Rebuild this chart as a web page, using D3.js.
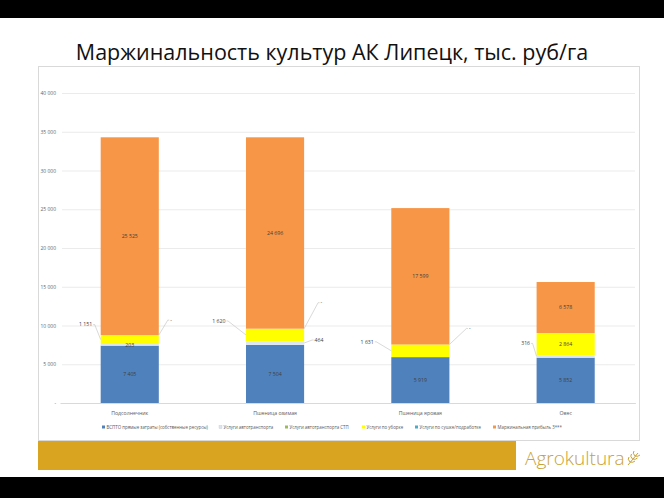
<!DOCTYPE html>
<html><head><meta charset="utf-8">
<script src="https://cdn.jsdelivr.net/npm/d3@7"></script>
<style>
html,body{margin:0;padding:0;background:#fff;}
svg{display:block;}
</style></head>
<body>
<svg id="c" width="664" height="498"></svg>
<script>
// ---- data ----
const categories = ["Подсолнечник", "Пшеница озимая", "Пшеница яровая", "Овес"];
const seriesNames = [
  "ВСПТО прямые затраты (собственные ресурсы)",
  "Услуги автотранспорта",
  "Услуги автотранспорта СТП",
  "Услуги по уборке",
  "Услуги по сушке/подработке",
  "Маржинальная прибыль 3***"
];
const directCosts   = [7405, 7504, 5919, 5852];
const transport     = [203, 464, 0, 316];
const transportSTP  = [0, 0, 0, 0];
const harvesting    = [1151, 1620, 1631, 2864];
const drying        = [0, 0, 0, 0];
const marginProfit  = [25525, 24696, 17599, 6578];
const yTicks = [0, 5000, 10000, 15000, 20000, 25000, 30000, 35000, 40000];
const title = "Маржинальность культур АК Липецк, тыс. руб/га";
const brand = "Agrokultura";
// callouts: [categoryIndex, seriesIndex, side, dx, dy]
const callouts = [
  [0, 3, "left", -6, -15], [0, 4, "right", 9, -15],
  [1, 3, "left", -18, -14], [1, 1, "right", 8, -3], [1, 4, "right", 14, -26],
  [2, 3, "left", -15, -9], [2, 4, "right", 17, -16],
  [3, 1, "left", -4, -13]
];

const seriesValues = [directCosts, transport, transportSTP, harvesting, drying, marginProfit];
const colors = ["#4f81bd", "#dce6f2", "#9bbb59", "#ffff00", "#4bacc6", "#f79646"];

const svg = d3.select("#c");
// top & bottom black bands
svg.append("rect").attr("x",0).attr("y",0).attr("width",664).attr("height",18).attr("fill","#000");
svg.append("rect").attr("x",0).attr("y",477).attr("width",664).attr("height",21).attr("fill","#000");

svg.append("text").attr("x",332).attr("y",60).attr("text-anchor","middle")
  .attr("font-family","'Open Sans', 'Noto Sans', sans-serif").attr("font-size",21.5)
  .attr("font-weight",500).attr("fill","#111").text(title);

// frame
svg.append("rect").attr("x",38.5).attr("y",66.5).attr("width",601).attr("height",374)
  .attr("fill","#fff").attr("stroke","#d9d9d9");

// bottom brand band
svg.append("rect").attr("x",38).attr("y",441).attr("width",478).attr("height",29).attr("fill","#d9a520");
svg.append("text").attr("x",525).attr("y",465).attr("font-family","'Open Sans', sans-serif")
  .attr("font-size",19).attr("font-weight",300).attr("fill","#c9a236").text(brand);
// small wheat glyph
const wg = svg.append("g").attr("transform","translate(628,453)").attr("stroke","#c9a236")
  .attr("stroke-width",1).attr("fill","none");
wg.append("path").attr("d","M0,12 Q5,6 10,0");
[[2,9],[4.5,6],[7,3]].forEach(([x,y])=>{
  wg.append("path").attr("d",`M${x},${y} q-3,-3 -1,-5`);
  wg.append("path").attr("d",`M${x},${y} q3,1 5,-1`);
});

// scales
const x = d3.scaleBand().domain(categories).range([60, 635.4]).paddingInner(0.6).paddingOuter(0.28);
const y = d3.scaleLinear().domain([0, 40000]).range([403, 93]);
const fmt = v => v === 0 ? "-" : d3.format(",")(v).replace(/,/g, " ");

// grid + y axis
const yAxis = d3.axisLeft(y).tickValues(yTicks).tickSize(-573).tickFormat(fmt).tickPadding(6);
const ga = svg.append("g").attr("transform","translate(62,0)").call(yAxis);
ga.select(".domain").remove();
ga.selectAll("line").attr("stroke","#e6e6e6").attr("stroke-width",0.8);
ga.selectAll("text").attr("font-family","'Open Sans', sans-serif").attr("font-size",5).attr("fill","#666");

// stack
const table = categories.map((c, i) => {
  const o = {cat: c};
  seriesNames.forEach((s, k) => o[s] = seriesValues[k][i]);
  return o;
});
const stack = d3.stack().keys(seriesNames)(table);

const layers = svg.append("g").selectAll("g").data(stack).join("g")
  .attr("fill", (d, k) => colors[k]);
layers.selectAll("rect").data(d => d).join("rect")
  .attr("x", d => x(d.data.cat)).attr("width", x.bandwidth())
  .attr("y", d => y(d[1])).attr("height", d => y(d[0]) - y(d[1]));

// labels
const calloutKey = new Set(callouts.map(c => c[0] + "_" + c[1]));
const lbl = svg.append("g").attr("font-family","'Open Sans', sans-serif").attr("font-size",5.2).attr("fill","#404040");
stack.forEach((layer, k) => {
  layer.forEach((d, i) => {
    const v = seriesValues[k][i];
    if (v === 0 || calloutKey.has(i + "_" + k)) return;
    lbl.append("text").attr("x", x(d.data.cat) + x.bandwidth() / 2)
      .attr("y", (y(d[0]) + y(d[1])) / 2 + 1.8).attr("text-anchor","middle").text(fmt(v));
  });
});
callouts.forEach(([i, k, side, dx, dy]) => {
  const d = stack[k][i];
  const ax = side === "left" ? x(categories[i]) : x(categories[i]) + x.bandwidth();
  const ay = (y(d[0]) + y(d[1])) / 2;
  const lx = ax + dx, ly = ay + dy;
  const s = side === "left" ? -1 : 1;
  svg.append("path").attr("d", `M${ax},${ay} L${lx},${ly} L${lx + s * 1.5},${ly}`)
    .attr("fill","none").attr("stroke","#bfbfbf").attr("stroke-width",0.6);
  lbl.append("text").attr("x", lx + s * 2.5).attr("y", ly + 1.8)
    .attr("text-anchor", side === "left" ? "end" : "start").text(fmt(seriesValues[k][i]));
});

// category labels
const gx = svg.append("g").attr("transform","translate(0,403)")
  .call(d3.axisBottom(x).tickSize(0).tickPadding(8));
gx.select(".domain").attr("stroke","#d9d9d9");
gx.selectAll("text").attr("font-family","'Open Sans', sans-serif").attr("font-size",5.2).attr("fill","#595959");

// legend
const legX = [102, 219, 285, 362, 415, 493];
const lg = svg.append("g").attr("font-family","'Open Sans', sans-serif").attr("font-size",4.4).attr("fill","#595959");
seriesNames.forEach((s, k) => {
  lg.append("rect").attr("x", legX[k]).attr("y", 425.5).attr("width", 3).attr("height", 3).attr("fill", colors[k])
    .attr("stroke", k === 1 ? "#bbb" : "none").attr("stroke-width", 0.3);
  lg.append("text").attr("x", legX[k] + 4.5).attr("y", 428.6).text(s);
});
</script>
</body></html>
